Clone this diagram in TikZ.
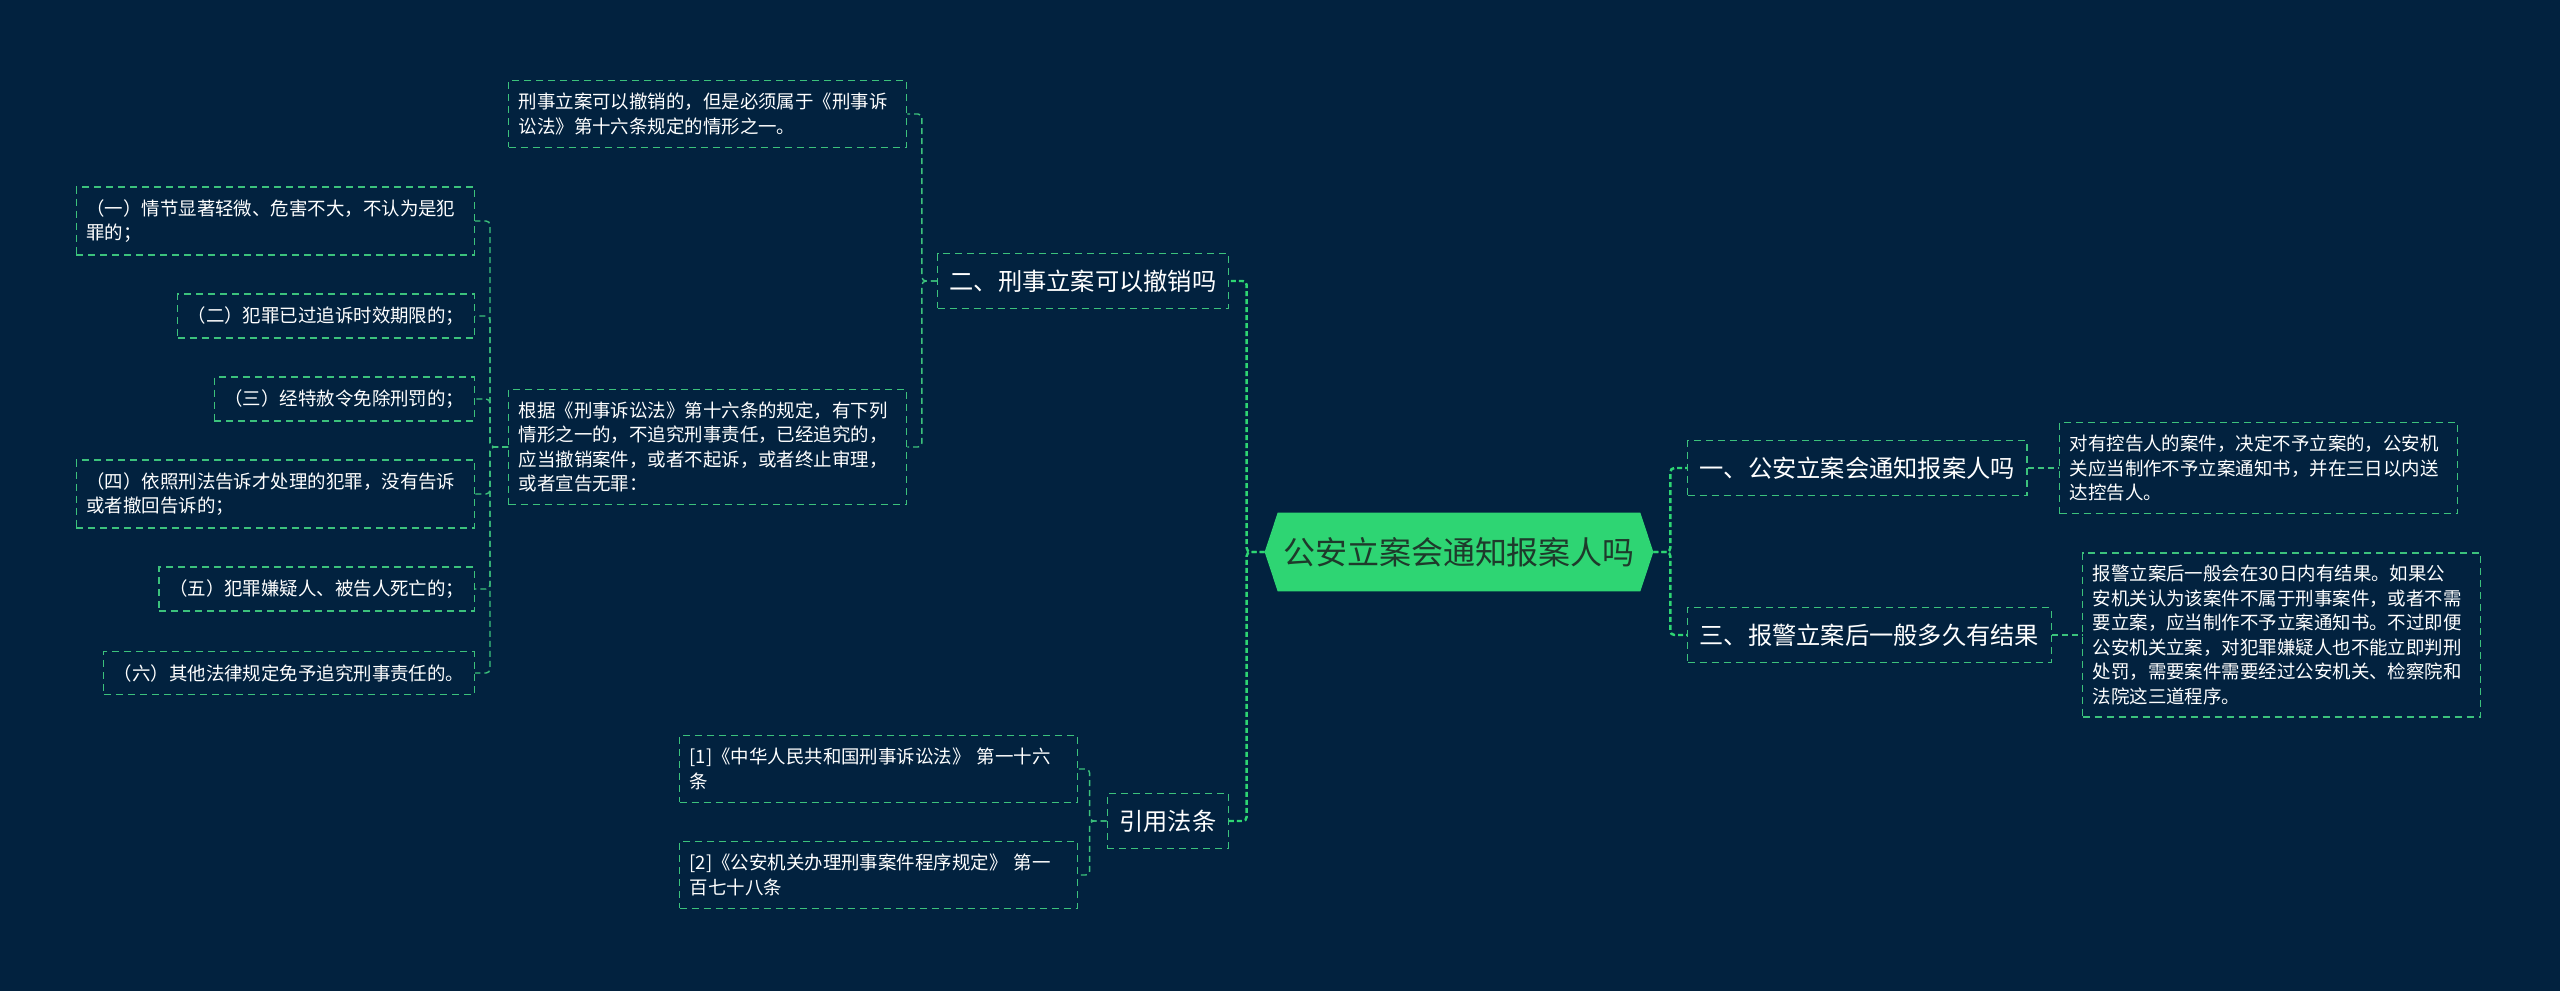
\documentclass[tikz,border=0pt]{standalone}
\usepackage{fontspec}
\newfontfamily\cjk{Noto Sans CJK SC}
\usepackage{tikz}
\usetikzlibrary{calc,backgrounds}
\definecolor{navy}{HTML}{02223F}
\definecolor{mint}{HTML}{2ED573}
\definecolor{dashgreen}{HTML}{3CC27C}
\definecolor{rootink}{HTML}{1E3A2B}
\tikzset{
  leafbox/.style={draw=dashgreen, line width=0.75pt, dash pattern=on 0.14cm off 0.1cm, text=white, align=left, inner xsep=0.2cm, inner ysep=0.25cm, font=\cjk\fontsize{10.5}{13.9}\selectfont},
  widebox/.style={leafbox, text width=7.56cm},
  branchbox/.style={draw=dashgreen, line width=0.75pt, dash pattern=on 0.14cm off 0.1cm, text=white, inner xsep=0.24cm, inner ysep=0.32cm, font=\cjk\fontsize{13.8}{16}\selectfont},
  rootbox/.style={text=rootink, minimum width=7.76cm, minimum height=1.56cm, inner sep=0pt, font=\cjk\fontsize{18.2}{22}\selectfont},
  linkline/.style={dashgreen, line width=0.8pt, dash pattern=on 0.12cm off 0.08cm, rounded corners=0.08cm},
  spineline/.style={mint, line width=1.4pt, dash pattern=on 0.1cm off 0.06cm, rounded corners=0.08cm},
}

\begin{document}
\begin{tikzpicture}
\node[rootbox] (0) at (29.18cm,-11.04cm) {公安立案会通知报案人吗};
\node[branchbox, anchor=east] (1) at (24.58cm,-5.62cm) {二、刑事立案可以撤销吗};
\node[widebox, anchor=west] (2) at (10.16cm,-2.28cm) {刑事立案可以撤销的，但是必须属于《刑事诉\\讼法》第十六条规定的情形之一。};
\node[widebox, anchor=west] (3) at (10.16cm,-8.94cm) {根据《刑事诉讼法》第十六条的规定，有下列\\情形之一的，不追究刑事责任，已经追究的，\\应当撤销案件，或者不起诉，或者终止审理，\\或者宣告无罪：};
\node[widebox, anchor=east] (4) at (9.5cm,-4.42cm) {（一）情节显著轻微、危害不大，不认为是犯\\罪的；};
\node[leafbox, anchor=east] (5) at (9.5cm,-6.32cm) {（二）犯罪已过追诉时效期限的；};
\node[leafbox, anchor=east] (6) at (9.5cm,-7.98cm) {（三）经特赦令免除刑罚的；};
\node[widebox, anchor=east] (7) at (9.5cm,-9.88cm) {（四）依照刑法告诉才处理的犯罪，没有告诉\\或者撤回告诉的；};
\node[leafbox, anchor=east] (8) at (9.5cm,-11.78cm) {（五）犯罪嫌疑人、被告人死亡的；};
\node[leafbox, anchor=east] (9) at (9.5cm,-13.46cm) {（六）其他法律规定免予追究刑事责任的。};
\node[branchbox, anchor=east] (10) at (24.58cm,-16.42cm) {引用法条};
\node[widebox, anchor=west] (11) at (13.58cm,-15.38cm) {[1]《中华人民共和国刑事诉讼法》 第一十六\\条};
\node[widebox, anchor=west] (12) at (13.58cm,-17.5cm) {[2]《公安机关办理刑事案件程序规定》 第一\\百七十八条};
\node[branchbox, anchor=west] (13) at (33.74cm,-9.36cm) {一、公安立案会通知报案人吗};
\node[widebox, anchor=west] (14) at (41.18cm,-9.36cm) {对有控告人的案件，决定不予立案的，公安机\\关应当制作不予立案通知书，并在三日以内送\\达控告人。};
\node[branchbox, anchor=west] (15) at (33.74cm,-12.7cm) {三、报警立案后一般多久有结果};
\node[widebox, anchor=west] (16) at (41.64cm,-12.7cm) {报警立案后一般会在30日内有结果。如果公\\安机关认为该案件不属于刑事案件，或者不需\\要立案，应当制作不予立案通知书。不过即便\\公安机关立案，对犯罪嫌疑人也不能立即判刑\\处罚，需要案件需要经过公安机关、检察院和\\法院这三道程序。};
\draw[spineline] (0.west) -- ++(-0.36cm,0) |- (1.east);
\draw[spineline] (0.west) -- ++(-0.36cm,0) |- (10.east);
\draw[spineline] (0.east) -- ++(0.34cm,0) |- (13.west);
\draw[spineline] (0.east) -- ++(0.34cm,0) |- (15.west);
\draw[linkline] (1.west) -- ++(-0.3cm,0) |- (2.east);
\draw[linkline] (1.west) -- ++(-0.3cm,0) |- (3.east);
\foreach \i in {4,...,9}
  \draw[linkline] (3.west) -- ++(-0.36cm,0) |- (\i.east);
\draw[linkline] (10.west) -- ++(-0.34cm,0) |- (11.east);
\draw[linkline] (10.west) -- ++(-0.34cm,0) |- (12.east);
\draw[linkline] (13.east) -- (14.west);
\draw[linkline] (15.east) -- (16.west);
\begin{scope}[on background layer]
\fill[navy] (0,0) rectangle (51.2cm,-19.82cm);
\fill[mint] (0.west) -- ($(0.north west)+(0.26cm,0)$) -- ($(0.north east)+(-0.26cm,0)$) -- (0.east) -- ($(0.south east)+(-0.26cm,0)$) -- ($(0.south west)+(0.26cm,0)$) -- cycle;
\end{scope}
\end{tikzpicture}
\end{document}
